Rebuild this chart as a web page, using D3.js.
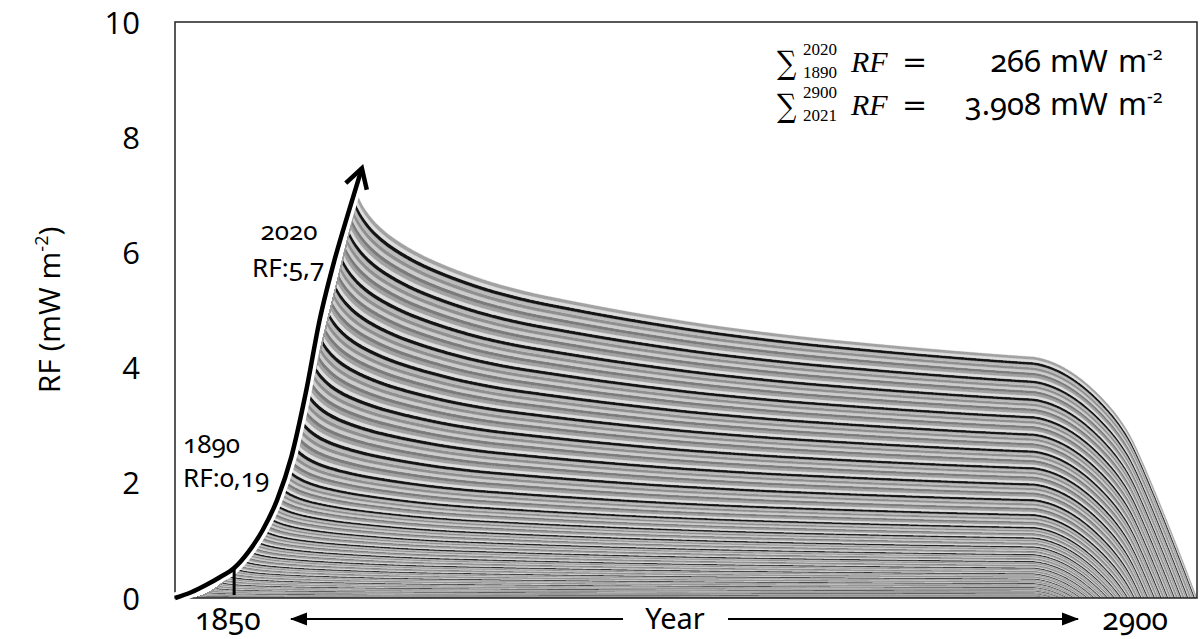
<!DOCTYPE html>
<html>
<head>
<meta charset="utf-8">
<script src="https://cdn.jsdelivr.net/npm/d3@7"></script>
<style>
  html, body { margin: 0; padding: 0; background: #fff; }
  svg { display: block; }
  .note { font-family: "Noto Sans", sans-serif; font-variant-numeric: oldstyle-nums; font-feature-settings: "onum" 1; fill: #000; }
  .tick text { font-family: "Open Sans", sans-serif; fill: #000; }
</style>
</head>
<body>
<svg id="chart" width="1200" height="639"></svg>
<script>
// ---- data -------------------------------------------------------------
// Forcing added by each annual cohort (1850 ... 2020) in its first year, mW m-2
const cohortFirst = 1850;
const cohortRF = [
  0.004,0.004,0.005,0.005,0.006,0.006,0.007,0.007,0.008,0.008, // 1850s
  0.009,0.009,0.010,0.010,0.011,0.011,0.012,0.012,0.013,0.013, // 1860s
  0.014,0.014,0.015,0.015,0.016,0.016,0.017,0.017,0.018,0.018, // 1870s
  0.019,0.019,0.020,0.020,0.021,0.021,0.022,0.022,0.023,0.023, // 1880s
  0.024,0.024,0.025,0.025,0.026,0.026,0.027,0.027,0.028,0.028, // 1890s
  0.029,0.029,0.030,0.030,0.031,0.031,0.032,0.032,0.033,0.033, // 1900s
  0.034,0.034,0.035,0.035,0.036,0.036,0.037,0.037,0.038,0.038, // 1910s
  0.039,0.039,0.040,0.040,0.041,0.041,0.042,0.042,0.043,0.043, // 1920s
  0.044,0.045,0.046,0.047,0.048,0.049,0.050,0.051,0.052,0.053, // 1930s
  0.054,0.055,0.056,0.057,0.058,0.060,0.062,0.064,0.066,0.068, // 1940s
  0.070,0.072,0.074,0.076,0.078,0.080,0.082,0.084,0.085,0.086, // 1950s
  0.087,0.088,0.088,0.089,0.089,0.090,0.090,0.091,0.091,0.092, // 1960s
  0.092,0.092,0.093,0.093,0.093,0.094,0.094,0.094,0.095,0.095, // 1970s
  0.095,0.095,0.096,0.096,0.096,0.096,0.097,0.097,0.097,0.097, // 1980s
  0.098,0.098,0.098,0.098,0.099,0.099,0.099,0.099,0.100,0.100, // 1990s
  0.100,0.100,0.100,0.101,0.101,0.101,0.101,0.102,0.102,0.102, // 2000s
  0.102,0.102,0.103,0.103,0.103,0.103,0.104,0.104,0.104,0.104, // 2010s
  0.105                                                        // 2020
];

// Share of a cohort's initial forcing that is left after a number of years
const retainAge  = [0, 5, 10, 20, 35, 50, 75, 100, 150, 200, 300, 400, 500, 600, 700, 800, 880];
const retainFrac = [1.00, 0.90, 0.85, 0.78, 0.725, 0.695, 0.655, 0.63, 0.59, 0.56, 0.525, 0.495, 0.472, 0.455, 0.44, 0.428, 0.42];

// Every cohort is followed for this many years
const horizonYears = 880;

// Time span of the chart
const yearFirst = 1850, yearLast = 2900;

// Value axis
const yMax = 10;
const yTicks = [0, 2, 4, 6, 8, 10];

// Growth arrow drawn along the rising edge (year, RF)
const arrowYears = [1828, 1845, 1860, 1875, 1890, 1905, 1920, 1935, 1950, 1965, 1980, 1995, 2010, 2024];
const arrowRF    = [0.00, 0.10, 0.22, 0.36, 0.52, 0.80, 1.18, 1.70, 2.45, 3.55, 4.85, 5.85, 6.70, 7.46];

// Marked year on the arrow
const markYear = 1890;

// Annotations
const totalsPast   = { from: "1890", to: "2020", value: "266" };
const totalsFuture = { from: "2021", to: "2900", value: "3.908" };

// Band shades, repeated over the cohorts from the bottom up
const greys = ["#141414", "#dedede", "#a2a2a2", "#7b7b7b", "#cdcdcd", "#8f8f8f", "#bababa"];

// ---- layout ------------------------------------------------------------
const plot = { left: 175, right: 1197, top: 22, bottom: 598 };
const firstYearX = 196;

const svg = d3.select("#chart");
const defs = svg.append("defs");

const x = d3.scaleLinear().domain([yearFirst, yearLast]).range([firstYearX, plot.right]);
const y = d3.scaleLinear().domain([0, yMax]).range([plot.bottom, plot.top]);

// ---- stacked cohorts ---------------------------------------------------
const retained = d3.scaleLinear().domain(retainAge).range(retainFrac).clamp(true);
const cohortKeys = cohortRF.map((_, i) => String(cohortFirst + i));

const rows = d3.range(yearFirst, yearLast + 1).map(t => {
  const row = { year: t };
  cohortRF.forEach((rf, i) => {
    const age = t - (cohortFirst + i);
    row[cohortKeys[i]] = (age < 0 || age >= horizonYears) ? 0 : rf * retained(age);
  });
  return row;
});

const series = d3.stack().keys(cohortKeys)(rows);

const area = d3.area()
  .x(d => x(d.data.year))
  .y0(d => y(d[0]))
  .y1(d => y(d[1]));

defs.append("clipPath").attr("id", "plotClip")
  .append("rect")
  .attr("x", plot.left).attr("y", plot.top)
  .attr("width", plot.right - plot.left).attr("height", plot.bottom - plot.top);

svg.append("g")
  .attr("clip-path", "url(#plotClip)")
  .selectAll("path")
  .data(series)
  .join("path")
  .attr("d", area)
  .attr("fill", (d, i) => greys[i % greys.length])
  .attr("stroke", (d, i) => greys[i % greys.length])
  .attr("stroke-width", 0.3);

// ---- frame -------------------------------------------------------------
svg.append("rect")
  .attr("x", plot.left).attr("y", plot.top)
  .attr("width", plot.right - plot.left).attr("height", plot.bottom - plot.top)
  .attr("fill", "none").attr("stroke", "#222").attr("stroke-width", 1.5);

// ---- value axis --------------------------------------------------------
const yAxis = svg.append("g")
  .attr("transform", `translate(${plot.left},0)`)
  .call(d3.axisLeft(y).tickValues(yTicks).tickSize(0).tickPadding(35).tickFormat(d3.format("d")));
yAxis.select(".domain").remove();
yAxis.selectAll("text").attr("font-size", 31).attr("dy", "0.36em");

svg.append("text")
  .attr("transform", `translate(60,${(plot.top + plot.bottom) / 2}) rotate(-90)`)
  .attr("text-anchor", "middle")
  .attr("font-family", "Open Sans, sans-serif")
  .attr("font-size", 30)
  .call(t => {
    t.append("tspan").text("RF (mW m");
    t.append("tspan").attr("font-size", 18).attr("dy", -12).text("-2");
    t.append("tspan").attr("dy", 12).text(")");
  });

// ---- growth arrow ------------------------------------------------------
defs.append("marker")
  .attr("id", "chev")
  .attr("markerUnits", "userSpaceOnUse")
  .attr("viewBox", "-4 -16 28 32")
  .attr("markerWidth", 28).attr("markerHeight", 32)
  .attr("refX", 19).attr("refY", 0)
  .attr("orient", "auto")
  .append("path")
  .attr("d", "M0,-11 L19,0 L0,11")
  .attr("fill", "none").attr("stroke", "#000").attr("stroke-width", 4.5)
  .attr("stroke-linejoin", "miter");

const arrowPts = arrowYears.map((yr, i) => [x(yr), y(arrowRF[i])]);
const arrowLine = d3.line().curve(d3.curveMonotoneX);

svg.append("path")
  .attr("d", arrowLine(arrowPts))
  .attr("fill", "none").attr("stroke", "#fff").attr("stroke-width", 11);

const markIdx = arrowYears.indexOf(markYear);
svg.append("line")
  .attr("x1", x(markYear)).attr("x2", x(markYear))
  .attr("y1", y(0) - 3).attr("y2", y(arrowRF[markIdx]))
  .attr("stroke", "#000").attr("stroke-width", 3);

svg.append("path")
  .attr("d", arrowLine(arrowPts))
  .attr("fill", "none").attr("stroke", "#000").attr("stroke-width", 4.5)
  .attr("marker-end", "url(#chev)");

// ---- cohort notes ------------------------------------------------------
const noteSize = 26;
svg.append("text").attr("class", "note").attr("font-size", noteSize)
  .attr("x", x(2020) - 69).attr("y", 240).attr("text-anchor", "middle").text("2020");
svg.append("text").attr("class", "note").attr("font-size", noteSize)
  .attr("x", x(2020) - 106).attr("y", 277).text("RF:5,7");
svg.append("text").attr("class", "note").attr("font-size", noteSize)
  .attr("x", plot.left + 8).attr("y", 453).text("1890");
svg.append("text").attr("class", "note").attr("font-size", noteSize)
  .attr("x", plot.left + 8).attr("y", 487).text("RF:0,19");

// ---- time axis ---------------------------------------------------------
const axisY = 619;
defs.append("marker")
  .attr("id", "tri")
  .attr("markerUnits", "userSpaceOnUse")
  .attr("viewBox", "0 -7 17 14")
  .attr("markerWidth", 17).attr("markerHeight", 14)
  .attr("refX", 16).attr("refY", 0)
  .attr("orient", "auto")
  .append("path").attr("d", "M0,-6.5 L17,0 L0,6.5 Z").attr("fill", "#000");

svg.append("text").attr("class", "note").attr("font-size", 30)
  .attr("x", plot.left + 20).attr("y", 630).text("1850");
svg.append("text").attr("class", "note").attr("font-size", 30)
  .attr("x", plot.right - 29).attr("y", 630).attr("text-anchor", "end").text("2900");
svg.append("text").attr("class", "note").attr("font-size", 29)
  .attr("x", 675).attr("y", 629).attr("text-anchor", "middle").text("Year");

svg.append("line")
  .attr("x1", 623).attr("x2", 291).attr("y1", axisY).attr("y2", axisY)
  .attr("stroke", "#000").attr("stroke-width", 2).attr("marker-end", "url(#tri)");
svg.append("line")
  .attr("x1", 728).attr("x2", 1078).attr("y1", axisY).attr("y2", axisY)
  .attr("stroke", "#000").attr("stroke-width", 2).attr("marker-end", "url(#tri)");

// ---- cumulative totals -------------------------------------------------
function totalsRow(baseline, tot) {
  const g = svg.append("g");
  g.append("text")
    .attr("transform", `translate(777,${baseline + 2}) scale(0.8,0.95)`)
    .attr("font-family", "DejaVu Serif, serif").attr("font-size", 34).text("\u2211");
  g.append("text").attr("x", 803).attr("y", baseline - 17)
    .attr("font-family", "Liberation Serif, serif").attr("font-size", 17).text(tot.to);
  g.append("text").attr("x", 803).attr("y", baseline + 6)
    .attr("font-family", "Liberation Serif, serif").attr("font-size", 17).text(tot.from);
  g.append("text").attr("x", 851).attr("y", baseline)
    .attr("font-family", "Liberation Serif, serif").attr("font-style", "italic").attr("font-size", 30).text("RF");
  g.append("text").attr("x", 902).attr("y", baseline)
    .attr("font-family", "DejaVu Serif, serif").attr("font-size", 30).text("=");
  g.append("text").attr("class", "note").attr("x", 1041).attr("y", baseline)
    .attr("text-anchor", "end").attr("font-size", 31).text(tot.value);
  g.append("text").attr("class", "note").attr("x", 1050).attr("y", baseline)
    .attr("font-size", 31).text("mW");
  const u = g.append("text").attr("class", "note").attr("x", 1118).attr("y", baseline).attr("font-size", 31);
  u.append("tspan").text("m");
  u.append("tspan").attr("font-size", 18).attr("dy", -12).text("-2");
}
totalsRow(72, totalsPast);
totalsRow(115, totalsFuture);
</script>
</body>
</html>
